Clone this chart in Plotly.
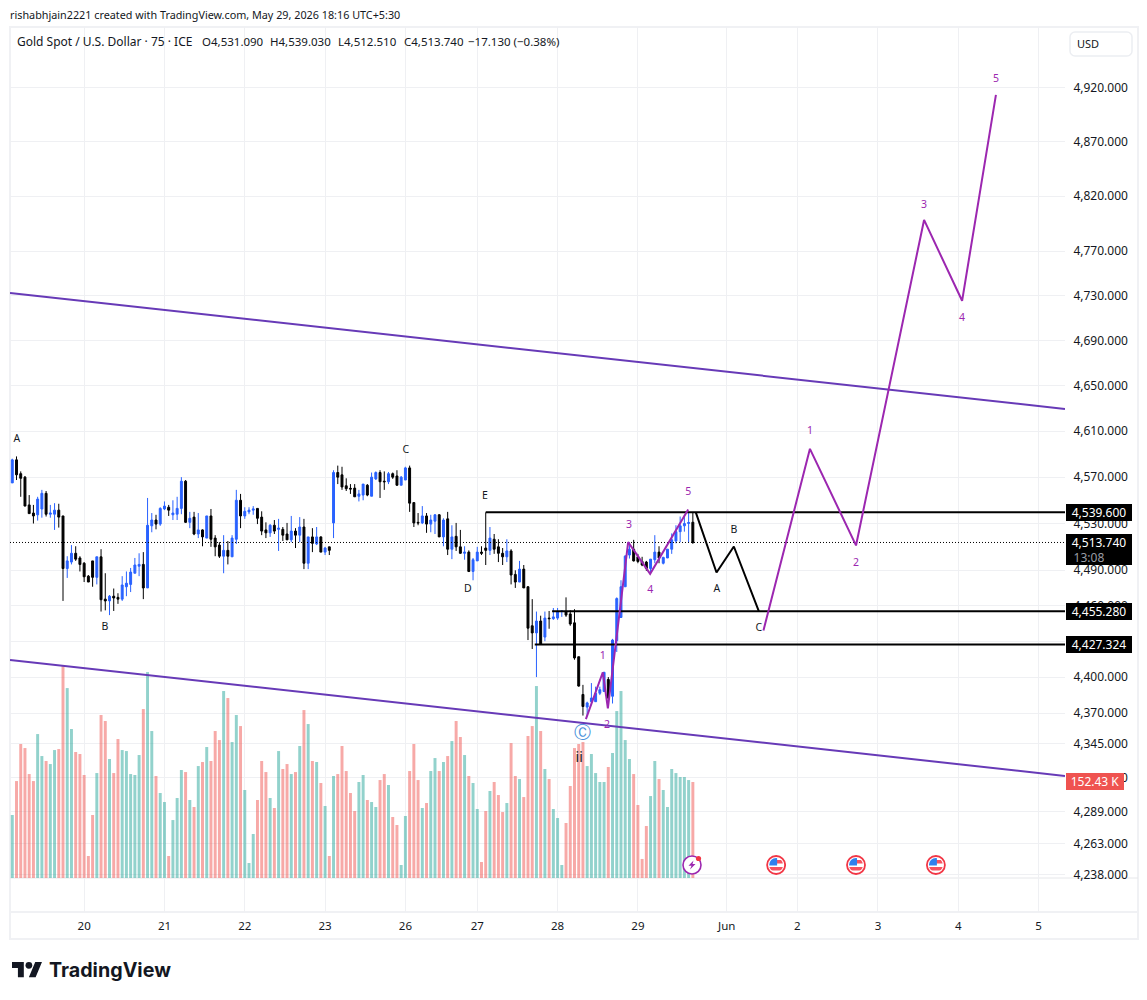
import base64
import math
import plotly.graph_objects as go

# 75-minute XAUUSD candles, one row per bar
candles = [
    # open, high, low, close
    (4565, 4586, 4565, 4585), (4585, 4588, 4567.5, 4572), (4573, 4575, 4553, 4569), (4570, 4571, 4545, 4545),
    (4546, 4554.5, 4538.5, 4538.5), (4539, 4546, 4530, 4536.5), (4537.5, 4553, 4532.5, 4551), (4542.5, 4559, 4535, 4556),
    (4556, 4558, 4536, 4538), (4538, 4546, 4535, 4539), (4538, 4547.5, 4524.5, 4541.5), (4541.5, 4547, 4526.5, 4535.5),
    (4536.5, 4536.5, 4464, 4491.5), (4491.5, 4502, 4483.5, 4498), (4497, 4511.5, 4495, 4504.5), (4504.5, 4510.5, 4498, 4499.5),
    (4500.5, 4502, 4489, 4495), (4496, 4497, 4480, 4484.5), (4485, 4486, 4480, 4480), (4498, 4498, 4476, 4484),
    (4484, 4501.5, 4478, 4501.5), (4501.5, 4508, 4455, 4465), (4465.5, 4487.5, 4456, 4464), (4464, 4469, 4452, 4468),
    (4468, 4474.5, 4455.5, 4466.5), (4467, 4470.5, 4461.5, 4465.5), (4465.5, 4485, 4464, 4477.5), (4476, 4489, 4468, 4479),
    (4478, 4492, 4471.5, 4488.5), (4487.5, 4500.5, 4487.5, 4494.5), (4493.5, 4504.5, 4485, 4495), (4495, 4505.5, 4465.5, 4475),
    (4475, 4552, 4475, 4528.5), (4528, 4539, 4522.5, 4533), (4533, 4537.5, 4525, 4529.5), (4529.5, 4544, 4528, 4543),
    (4542.5, 4549, 4541.5, 4545), (4544, 4546, 4536.5, 4541.5), (4537.5, 4550, 4533, 4539), (4538, 4553, 4533, 4543),
    (4543, 4570, 4538, 4566.5), (4566.5, 4567.5, 4530.5, 4531), (4531, 4540, 4526, 4534.5), (4535.5, 4540, 4520, 4521),
    (4521, 4539, 4517.5, 4524.5), (4524.5, 4525, 4510.5, 4518.5), (4517.5, 4536.5, 4517.5, 4536.5), (4536.5, 4542.5, 4510, 4516.5),
    (4517.5, 4520, 4502, 4510), (4511.5, 4514, 4500.5, 4502), (4502, 4520, 4487.5, 4507), (4507, 4515, 4495, 4502),
    (4501.5, 4520, 4501.5, 4517.5), (4516.5, 4559, 4512.5, 4550), (4550, 4555.5, 4526, 4536.5), (4536.5, 4544, 4534, 4540.5),
    (4540, 4544, 4538, 4541.5), (4541.5, 4545, 4537.5, 4542.5), (4543, 4543, 4529.5, 4534.5), (4535.5, 4540.5, 4520, 4523.5),
    (4524.5, 4531, 4517.5, 4522), (4522, 4529.5, 4518.5, 4528.5), (4528.5, 4533, 4521, 4523.5), (4525, 4534, 4506.5, 4526),
    (4525, 4527, 4515, 4520), (4521, 4530.5, 4516, 4516), (4516, 4536.5, 4514, 4523.5), (4523.5, 4526, 4509, 4520),
    (4520, 4535.5, 4514, 4527), (4527, 4534, 4491, 4496), (4496, 4518.5, 4491, 4518.5), (4518.5, 4526, 4505.5, 4513),
    (4512.5, 4527, 4511.5, 4518.5), (4518.5, 4519, 4505.5, 4505.5), (4505.5, 4510, 4503, 4509), (4510, 4510, 4503, 4507),
    (4530.5, 4576, 4517.5, 4574), (4574, 4580, 4564, 4570), (4572, 4579, 4559, 4561.5), (4562.5, 4569, 4558, 4560),
    (4560.3, 4564, 4555.5, 4559.7), (4560.5, 4564, 4553, 4553), (4553.5, 4559, 4549, 4555.5), (4554.5, 4564, 4550, 4564),
    (4563, 4564, 4553.5, 4554.5), (4553.5, 4574, 4553.5, 4570), (4568.5, 4575, 4567.5, 4574), (4574, 4576, 4552, 4566),
    (4566.5, 4575, 4559, 4566), (4566, 4574.5, 4564, 4573), (4573, 4574, 4568.5, 4570), (4571, 4576, 4562.5, 4563),
    (4563, 4571, 4563, 4570), (4567.5, 4579, 4567.5, 4578), (4578, 4580, 4540, 4547.5), (4548, 4548, 4527, 4530.5),
    (4531, 4539, 4528.5, 4530.5), (4530.5, 4545, 4529.5, 4536.5), (4536.5, 4539, 4522, 4529.5), (4529.5, 4537.5, 4522.5, 4533),
    (4532, 4538, 4521, 4537.5), (4537.5, 4538, 4518.5, 4518.5), (4518.5, 4534.5, 4510.5, 4533), (4534, 4540, 4503, 4508),
    (4508, 4528.5, 4499.5, 4518.5), (4519, 4530.5, 4506.5, 4510), (4510, 4524.5, 4504, 4504.5), (4504.5, 4510.5, 4499, 4505.5),
    (4505.5, 4507, 4488.5, 4489), (4489, 4500.5, 4481.5, 4499), (4498, 4510, 4498, 4505.5), (4505.5, 4510.5, 4503, 4504.5),
    (4509, 4539.6, 4494.5, 4507), (4507, 4527, 4503, 4517.5), (4516.5, 4521, 4504, 4508), (4510, 4516.5, 4497, 4504.5),
    (4504.5, 4509, 4494.5, 4501.5), (4501.5, 4516.5, 4497, 4506.5), (4506.5, 4508, 4478, 4486), (4486.5, 4490, 4475, 4480),
    (4480, 4498, 4480, 4491), (4491, 4494.5, 4475, 4475), (4476, 4476.5, 4431, 4441), (4443, 4465.5, 4423.5, 4437),
    (4437, 4455, 4400, 4447), (4447, 4451.5, 4427.5, 4427.5), (4433.5, 4455, 4430, 4449.5), (4449.5, 4455.5, 4440.5, 4449),
    (4449, 4458, 4448, 4450.5), (4449.5, 4458, 4448, 4455), (4455, 4456, 4450.5, 4455.5), (4455, 4467, 4450.5, 4452),
    (4453, 4456, 4443, 4444.5), (4445.5, 4457, 4414.5, 4416), (4417, 4417, 4392, 4392.5), (4385.5, 4393.5, 4368, 4375.5),
    (4375, 4379.5, 4368, 4378.5), (4379.5, 4395, 4377, 4382.5), (4379.5, 4392, 4379.5, 4386.5), (4386.5, 4392, 4385, 4389.5),
    (4388, 4404, 4388, 4404), (4398, 4400, 4379.5, 4382.5), (4384, 4432, 4378, 4431), (4430.5, 4467, 4421, 4466),
    (4450, 4481.5, 4450, 4476), (4476, 4503, 4476, 4502), (4503, 4514, 4500, 4508), (4508, 4516, 4497.5, 4498),
    (4501.5, 4504, 4496, 4497.5), (4497.5, 4501.5, 4493.5, 4494.5), (4497, 4498, 4489.5, 4491.5), (4491.5, 4499.5, 4488.5, 4499.5),
    (4499, 4520, 4496, 4505.5), (4505.5, 4510.5, 4496, 4500.5), (4496, 4501.5, 4495, 4501), (4500.5, 4508, 4500.5, 4508),
    (4508, 4521.5, 4504, 4516), (4515, 4528.5, 4513, 4523), (4523, 4536, 4514, 4528), (4528, 4537.5, 4523, 4530),
    (4530, 4539, 4514, 4530.87), (4531.09, 4539.03, 4512.51, 4513.74),
]
opens = [c[0] for c in candles]
highs = [c[1] for c in candles]
lows = [c[2] for c in candles]
closes = [c[3] for c in candles]

# Volume per bar, thousands of contracts
volume = [
    100.0, 153.9, 212.7, 206.3, 165.0, 153.9, 228.5, 193.6, 185.7, 180.9, 203.1, 204.7, 336.4, 301.5, 236.5, 200.0,
    196.8, 163.5, 34.9, 100.0, 166.6, 258.7, 249.2, 188.9, 166.6, 220.6, 203.1, 201.5, 165.0, 163.5, 195.2, 268.2,
    326.9, 233.3, 161.9, 134.9, 120.6, 34.9, 92.0, 127.0, 171.4, 168.2, 123.8, 112.7, 177.7, 184.1, 207.9, 185.7,
    233.3, 219.0, 296.8, 285.7, 215.8, 258.7, 241.2, 139.7, 23.8, 69.8, 123.8, 185.7, 168.2, 127.0, 111.1, 201.5,
    173.0, 180.9, 165.0, 168.2, 209.5, 266.6, 244.4, 185.7, 184.1, 150.8, 114.3, 34.9, 161.9, 165.0, 209.5, 169.8,
    134.9, 106.3, 152.4, 163.5, 123.8, 120.6, 112.7, 155.5, 165.0, 147.6, 96.8, 84.1, 20.6, 98.4, 169.8, 212.7,
    155.5, 111.1, 119.0, 169.8, 190.4, 169.8, 184.1, 193.6, 217.4, 249.2, 223.8, 195.2, 161.9, 150.8, 109.5, 25.4,
    106.3, 138.1, 152.4, 131.7, 104.7, 119.0, 214.2, 161.9, 157.1, 128.5, 225.4, 241.2, 304.7, 233.3, 173.0, 157.1,
    109.5, 95.2, 20.6, 87.3, 146.0, 206.3, 212.7, 215.8, 177.7, 196.8, 166.6, 152.4, 152.4, 176.2, 198.4, 265.0,
    296.8, 219.0, 188.9, 165.0, 115.9, 30.2, 82.5, 130.1, 185.7, 157.1, 139.7, 112.7, 173.0, 166.6, 160.3, 160.3,
    155.5, 152.43,
]
bar_index = list(range(len(candles)))

# Time axis
day_positions = [17, 36, 55, 74, 93, 110, 129, 148, 169, 185.7, 204.8, 223.8, 242.8]
day_labels = ["20", "21", "22", "23", "26", "27", "28", "29", "Jun", "2", "3", "4", "5"]
first_visible_bar = -0.54
last_visible_bar = 249.04

# Price axis
price_ticks = [4920, 4870, 4820, 4770, 4730, 4690, 4650, 4610, 4570, 4530, 4490, 4460, 4430,
               4400, 4370, 4345, 4317, 4289, 4263, 4238]
price_min = 4208.3
price_max = 4977.2
volume_min = -54
volume_max = 1351

# Price levels and channel boundaries
last_price = 4513.74
level_prices = [4539.6, 4455.28, 4427.324]
level_starts = [112, 127.7, 123.6]
upper_channel = [4732.4, 4629.5]
lower_channel = [4414.3, 4318.3]

# Elliott wave paths
impulse_x = [135.7, 139.7, 140.9, 145.7, 150.9, 159.9]
impulse_y = [4365, 4404, 4374, 4514, 4487, 4542]
correction_x = [161.7, 166.6, 170.7, 176.6]
correction_y = [4539.6, 4488.1, 4510.3, 4455.28]
projection_x = [177.7, 188.7, 199.6, 215.7, 224.7, 232.7]
projection_y = [4439, 4594.6, 4511.2, 4798.4, 4725.4, 4913.5]

# Wave captions
black_text = ["A", "B", "C", "D", "E", "A", "B", "C"]
black_text_x = [1.1, 21.9, 93.1, 107.8, 111.8, 166.7, 170.7, 176.6]
black_text_y = [4603, 4441.5, 4593, 4473.6, 4553.2, 4473.6, 4524, 4440.7]
purple_text = ["1", "2", "3", "4", "5", "1", "2", "3", "4", "5"]
purple_text_x = [139.7, 140.7, 145.9, 150.9, 159.9, 188.7, 199.6, 215.7, 224.7, 232.7]
purple_text_y = [4417.2, 4359.8, 4528.3, 4472.8, 4556.7, 4610, 4495.8, 4812, 4710, 4928.4]
event_bars = [180.7, 199.6, 218.5]

# Fixed page geometry
PLOT_L, PLOT_R, PLOT_T, PLOT_B = 10, 1065, 27, 912
INK = "#131722"
GRID = "#eff0f3"
FRAME = "#f0f1f4"
FONT = "Noto Sans"


def page_x(px):
    return (px - PLOT_L) / (PLOT_R - PLOT_L)


def page_y(py):
    return (PLOT_B - py) / (PLOT_B - PLOT_T)


def svg_uri(body, w=20, h=20):
    svg = f'<svg xmlns="http://www.w3.org/2000/svg" width="{w}" height="{h}" viewBox="0 0 {w} {h}">{body}</svg>'
    return "data:image/svg+xml;base64," + base64.b64encode(svg.encode()).decode()


flag_icon = svg_uri(
    '<defs><clipPath id="c"><circle cx="10" cy="10" r="7"/></clipPath></defs>'
    '<circle cx="10" cy="10" r="9" fill="#fff" stroke="#f23645" stroke-width="1.8"/>'
    '<g clip-path="url(#c)"><rect x="10" y="5" width="8" height="3.5" fill="#f7525f"/>'
    '<rect x="2" y="12" width="16" height="3.5" fill="#f7525f"/>'
    '<rect x="3" y="3" width="8" height="7.5" fill="#2f80ed"/></g>'
)
bolt_icon = svg_uri(
    '<circle cx="10" cy="10" r="9" fill="#fff" stroke="#9c27b0" stroke-width="1.6"/>'
    '<path d="M11.5 5.5 L6.5 10.8 H9.5 L8 14.5 L13.5 9 H10.5 Z" fill="#9c27b0"/>'
    '<circle cx="16.5" cy="3.5" r="2.6" fill="#f23645"/>'
)
logo_mark = svg_uri(
    '<path d="M14 22H7V11H0V4h14v18zM28 22h-8l7.5-18h8L28 22z" fill="#131722"/>'
    '<circle cx="20" cy="8" r="4" fill="#131722"/>', 36, 26
)
usd_box = svg_uri('<rect x="1" y="1" width="62" height="24" rx="5" fill="#fff" stroke="#eceef2" stroke-width="1.5"/>', 64, 26)

bar_colors = ["rgba(38,166,154,0.5)" if c >= o else "rgba(239,83,80,0.5)" for o, c in zip(opens, closes)]

fig = go.Figure()

# Volume shares the pane but has its own hidden axis underneath the price axis
fig.add_bar(x=bar_index, y=volume, width=0.7, marker=dict(color=bar_colors, line_width=0),
            yaxis="y", hoverinfo="skip")

fig.add_scatter(x=[first_visible_bar, last_visible_bar], y=[last_price, last_price], yaxis="y2", mode="lines",
                line=dict(color="#000000", width=1, dash="1px,2px"), hoverinfo="skip")

fig.add_candlestick(x=bar_index, open=opens, high=highs, low=lows, close=closes, yaxis="y2",
                    increasing=dict(line=dict(color="#2962ff", width=1), fillcolor="#2962ff"),
                    decreasing=dict(line=dict(color="#000000", width=1), fillcolor="#000000"),
                    whiskerwidth=0)

for boundary in (upper_channel, lower_channel):
    fig.add_scatter(x=[first_visible_bar, last_visible_bar], y=boundary, yaxis="y2", mode="lines",
                    line=dict(color="#673ab7", width=2), hoverinfo="skip")

for level, start in zip(level_prices, level_starts):
    fig.add_scatter(x=[start, last_visible_bar], y=[level, level], yaxis="y2", mode="lines",
                    line=dict(color="#000000", width=2), hoverinfo="skip")

fig.add_scatter(x=impulse_x, y=impulse_y, yaxis="y2", mode="lines", line=dict(color="#9c27b0", width=2))
fig.add_scatter(x=correction_x, y=correction_y, yaxis="y2", mode="lines", line=dict(color="#000000", width=2))
fig.add_scatter(x=projection_x, y=projection_y, yaxis="y2", mode="lines", line=dict(color="#9c27b0", width=2))

fig.add_scatter(x=black_text_x, y=black_text_y, text=black_text, yaxis="y2", mode="text",
                textfont=dict(family=FONT, size=10.5, color="#131722"), textposition="middle center")
fig.add_scatter(x=purple_text_x, y=purple_text_y, text=purple_text, yaxis="y2", mode="text",
                textfont=dict(family=FONT, size=10.5, color="#9c27b0"), textposition="middle center")
fig.add_scatter(x=[134.1], y=[4332.6], text=["ii"], yaxis="y2", mode="text",
                textfont=dict(family=FONT, size=14, color="#131722"), textposition="middle center")
fig.add_scatter(x=[134.8], y=[4353], text=["Ⓒ"], yaxis="y2", mode="text",
                textfont=dict(family="DejaVu Sans", size=17, color="#4a90d9"), textposition="middle center")


def page_text(text, px, py, size=11.5, color=INK, family=FONT, anchor="left"):
    return dict(text=text, xref="paper", yref="paper", x=page_x(px - 2), y=page_y(py), xanchor=anchor, yanchor="middle",
                showarrow=False, font=dict(family=family, size=size, color=color))


def axis_tag(text, value, width, height, color, yref="y2", yshift=0, xshift=1):
    y = math.log10(value) if yref == "y2" else value
    return dict(text=text, xref="paper", yref=yref, x=1, y=y, xshift=xshift, yshift=yshift, xanchor="left", yanchor="middle",
                width=width, height=height, bgcolor=color, borderpad=0, borderwidth=0, showarrow=False, align="center",
                font=dict(family=FONT, size=12, color="#ffffff"))


clock_tag = axis_tag("13:08", last_price, 36, 15, "rgba(0,0,0,0)", yshift=-15, xshift=5.5)
clock_tag["font"]["color"] = "#9a9da5"

annotations = [
    page_text("rishabhjain2221 created with TradingView.com, May 29, 2026 18:16 UTC+5:30", 10, 15, size=10.8),
    page_text("Gold Spot / U.S. Dollar · 75 · ICE", 17, 42, size=12),
    page_text("O4,531.090", 201.5, 42),
    page_text("H4,539.030", 269.5, 42),
    page_text("L4,512.510", 338, 42),
    page_text("C4,513.740", 403.5, 42),
    page_text("−17.130 (−0.38%)", 467.5, 42),
    page_text("USD", 1077, 44, size=11),
    page_text("<b>TradingView</b>", 49, 970, size=19.7, family="Inter"),
    axis_tag("4,539.600", level_prices[0], 66, 17, "#000000"),
    axis_tag(" ", last_price, 66, 31, "#000000", yshift=-7),
    axis_tag("4,513.740", last_price, 66, 17, "rgba(0,0,0,0)"),
    clock_tag,
    axis_tag("4,455.280", level_prices[1], 66, 17, "#000000"),
    axis_tag("4,427.324", level_prices[2], 66, 17, "#000000"),
    axis_tag("152.43 K", volume[-1], 58, 17, "#ef5350", yref="y"),
]

images = [
    dict(source=bolt_icon, xref="x", yref="paper", x=160.8, y=page_y(865), sizex=20 / 4.227, sizey=20 / 885,
         xanchor="center", yanchor="middle", sizing="stretch", layer="above"),
    dict(source=logo_mark, xref="paper", yref="paper", x=page_x(12), y=page_y(958.6), sizex=30.4 / 1055, sizey=22 / 885,
         xanchor="left", yanchor="top", sizing="stretch", layer="above"),
    dict(source=usd_box, xref="paper", yref="paper", x=page_x(1069), y=page_y(31), sizex=64 / 1055, sizey=26 / 885,
         xanchor="left", yanchor="top", sizing="stretch", layer="above"),
]
for bar in event_bars:
    images.append(dict(source=flag_icon, xref="x", yref="paper", x=bar, y=page_y(865), sizex=20 / 4.227, sizey=20 / 885,
                       xanchor="center", yanchor="middle", sizing="stretch", layer="above"))

shapes = [
    # panel frame and the rule under the price pane
    dict(type="rect", xref="paper", yref="paper", x0=page_x(10), x1=page_x(1138), y0=page_y(939), y1=page_y(27),
         line=dict(color=FRAME, width=2), layer="below"),
    dict(type="line", xref="paper", yref="paper", x0=page_x(10), x1=page_x(1138), y0=page_y(912), y1=page_y(912),
         line=dict(color=FRAME, width=2), layer="below"),
    dict(type="line", xref="paper", yref="paper", x0=page_x(10), x1=page_x(1138), y0=page_y(878), y1=page_y(878),
         line=dict(color="#e6e7ea", width=1), layer="below"),
]

fig.update_layout(
    width=1147, height=1000, autosize=False,
    margin=dict(l=PLOT_L, r=1147 - PLOT_R, t=PLOT_T, b=1000 - PLOT_B),
    paper_bgcolor="#ffffff", plot_bgcolor="#ffffff", showlegend=False, boxgap=0.35, bargap=0.3,
    font=dict(family=FONT, size=12, color=INK),
    xaxis=dict(range=[first_visible_bar, last_visible_bar], tickmode="array", tickvals=day_positions, ticktext=day_labels,
               showgrid=True, gridcolor=GRID, gridwidth=1, zeroline=False, showline=False, ticks="outside", ticklen=3,
               tickcolor="rgba(0,0,0,0)", tickfont=dict(family=FONT, size=11.5, color=INK),
               rangeslider=dict(visible=False)),
    yaxis=dict(range=[volume_min, volume_max], visible=False, fixedrange=True),
    yaxis2=dict(overlaying="y", side="right", type="log", range=[math.log10(price_min), math.log10(price_max)],
                tickmode="array", tickvals=price_ticks, tickformat=",.3f", showgrid=True, gridcolor=GRID, gridwidth=1,
                zeroline=False, showline=False, ticks="outside", ticklen=5, tickcolor="rgba(0,0,0,0)",
                tickfont=dict(family=FONT, size=12, color=INK)),
    annotations=annotations, images=images, shapes=shapes,
)

fig.write_html("out.html")
